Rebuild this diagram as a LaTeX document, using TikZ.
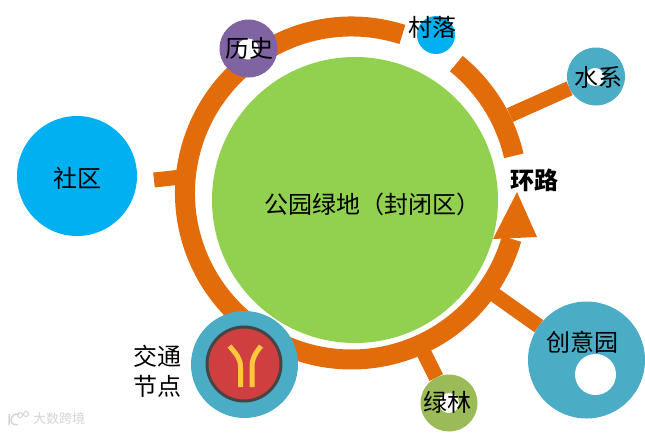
\documentclass[tikz,border=0pt]{standalone}
\usepackage{fontspec}
\usetikzlibrary{backgrounds}
\setmainfont{Noto Sans CJK SC}
\definecolor{ringc}{HTML}{E36C0A}
\definecolor{greenc}{HTML}{92D050}
\definecolor{bluec}{HTML}{00B0F0}
\definecolor{tealc}{HTML}{4BACC6}
\definecolor{purplec}{HTML}{8064A2}
\definecolor{olivec}{HTML}{9BBB59}
\definecolor{redc}{HTML}{D03F3F}
\definecolor{yellowc}{HTML}{FFC83C}
\definecolor{darkc}{HTML}{454545}
\definecolor{markc}{HTML}{D4D4D4}
\tikzset{
  blob/.style={circle,inner sep=0pt,outer sep=0pt,minimum size=#1},
  hole/.style={circle,inner sep=0pt,outer sep=0pt,fill=white,minimum size=#1},
  spur/.style={draw=ringc,line width=15pt},
  ringarc/.style={draw=ringc,line width=20pt},
  lab/.style={inner sep=0pt,font=\fontsize{24}{27}\selectfont,text=black},
}
\begin{document}
\begin{tikzpicture}[x=1pt,y=-1pt]
\useasboundingbox (0,0) rectangle (645,432);
\coordinate (ringcentre) at (351.5,193);
\coordinate (spurA1) at (154,180);
\coordinate (spurA2) at (186,176.5);
\coordinate (spurB) at (510,115);
\coordinate (spurC) at (495,295);
\coordinate (spurD) at (424,353);
% satellite circles
\node[blob=120pt,fill=bluec] (shequ) at (77,176) {};
\node[blob=58pt,fill=purplec] (lishi) at (248.5,48.5) {};
\node[blob=38pt,fill=bluec] (cunluo) at (436,35) {};
\node[blob=58pt,fill=tealc] (shuixi) at (596,76.5) {};
\node[blob=117pt,fill=tealc] (chuangyi) at (586.5,360) {};
\node[blob=57pt,fill=olivec] (lvlin) at (449,403) {};
% connectors and ring, under the circles
\begin{scope}[on background layer]
\draw[spur] (spurA1) -- (spurA2);
\draw[spur] (shuixi) -- (spurB);
\draw[spur] (chuangyi) -- (spurC);
\draw[spur] (lvlin) -- (spurD);
\draw[ringarc] ([shift={(-72.2:166.5)}]ringcentre) arc[start angle=-72.2,end angle=-344,radius=166.5];
\draw[ringarc] ([shift={(-12.9:166.5)}]ringcentre) arc[start angle=-12.9,end angle=-51,radius=166.5];
\end{scope}
% centre
\node[blob=286pt,fill=greenc] (park) at (355,200) {};
\fill[ringc] (517,192) -- (537,237) -- (493,239) -- cycle;
% transport node
\node[blob=107pt,fill=tealc] (jiaotong) at (244.5,364.5) {};
\node[blob=74pt,fill=redc,draw=darkc,line width=3pt] (sign) at (244,364) {};
\draw[yellowc,line width=5pt] (229.5,346) .. controls (236,354) and (240.5,358) .. (240.5,367) -- (240.5,387);
\draw[yellowc,line width=5pt] (261,346) .. controls (255,354) and (252,358) .. (252,367) -- (252,387);
% holes
\node[hole=21pt] (h1) at (248,49) {};
\node[hole=18pt] (h2) at (595,77) {};
\node[hole=41pt] (h3) at (595.5,374.5) {};
\node[hole=20pt] (h4) at (449,403) {};
% labels
\node[lab] (t1) at (77,178) {社区};
\node[lab] (t2) at (249,48) {历史};
\node[lab] (t3) at (432.5,27) {村落};
\node[lab] (t4) at (598,77) {水系};
\node[lab] (t5) at (582.5,342) {创意园};
\node[lab] (t6) at (447,402) {绿林};
\node[lab] (t7) at (157,356) {交通};
\node[lab] (t8) at (157,386) {节点};
\node[lab,anchor=west] (t9) at (264,204) {公园绿地（封闭区）};
\node[lab,font=\fontsize{24}{27}\selectfont\bfseries] (t10) at (534,180) {环路};
% watermark
\node[inner sep=0pt,text=markc,font=\fontsize{13}{15}\selectfont] (wm) at (59,419) {大数跨境};
\draw[markc,line width=1.5pt] (9,414) -- (9,425) (11,420) arc[start angle=180,end angle=70,radius=5] (11,420) arc[start angle=180,end angle=290,radius=6];
\draw[markc,line width=1pt] (20,415) circle[radius=2.5] (26,414) circle[radius=2.5];
\end{tikzpicture}
\end{document}
